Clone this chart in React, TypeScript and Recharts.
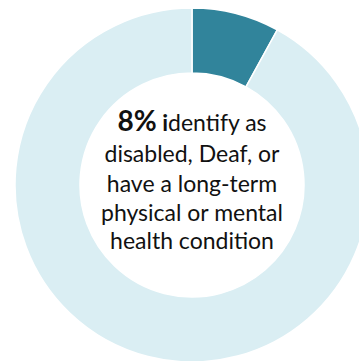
import React from 'react'
import { PieChart, Pie, Cell, Label } from 'recharts'

const categories = ['Disabled, Deaf or long-term condition', 'Other']
const shares = [8, 92]
const colors = ['#31849B', '#DAEEF3']
const headline = '8%'
const textLines = ['disabled, Deaf, or', 'have a long-term', 'physical or mental', 'health condition']

const data = categories.map((name, i) => ({ name, value: shares[i] }))

const FONT = 'Lato, "Open Sans", sans-serif'
const CX = 192
const CY = 185

// centre text
const CenterText = () => {
  const offsets = [-23, 7, 36, 64]
  return (
    <text x={CX} textAnchor="middle" fill="#111" fontFamily={FONT} fontSize={23}>
      <tspan x={CX} y={CY - 54}>
        <tspan fontWeight="bold" fontSize={28}>{headline}</tspan>
        <tspan fontWeight="bold"> i</tspan>
        <tspan>dentify as</tspan>
      </tspan>
      {textLines.map((line, i) => (
        <tspan key={i} x={CX} y={CY + offsets[i]}>{line}</tspan>
      ))}
    </text>
  )
}

export default function App() {
  return (
    <div style={{ position: 'absolute', left: 0, top: 0, width: 359, height: 361, background: '#fff' }}>
      <PieChart width={359} height={361} margin={{ top: 0, right: 0, bottom: 0, left: 0 }}>
        <Pie
          data={data}
          dataKey="value"
          nameKey="name"
          cx={CX}
          cy={CY}
          innerRadius={112}
          outerRadius={177}
          startAngle={90}
          endAngle={-270}
          stroke="#fff"
          strokeWidth={1.5}
          isAnimationActive={false}
        >
          {data.map((d, i) => (
            <Cell key={d.name} fill={colors[i]} />
          ))}
          <Label position="center" content={CenterText} />
        </Pie>
      </PieChart>
    </div>
  )
}
